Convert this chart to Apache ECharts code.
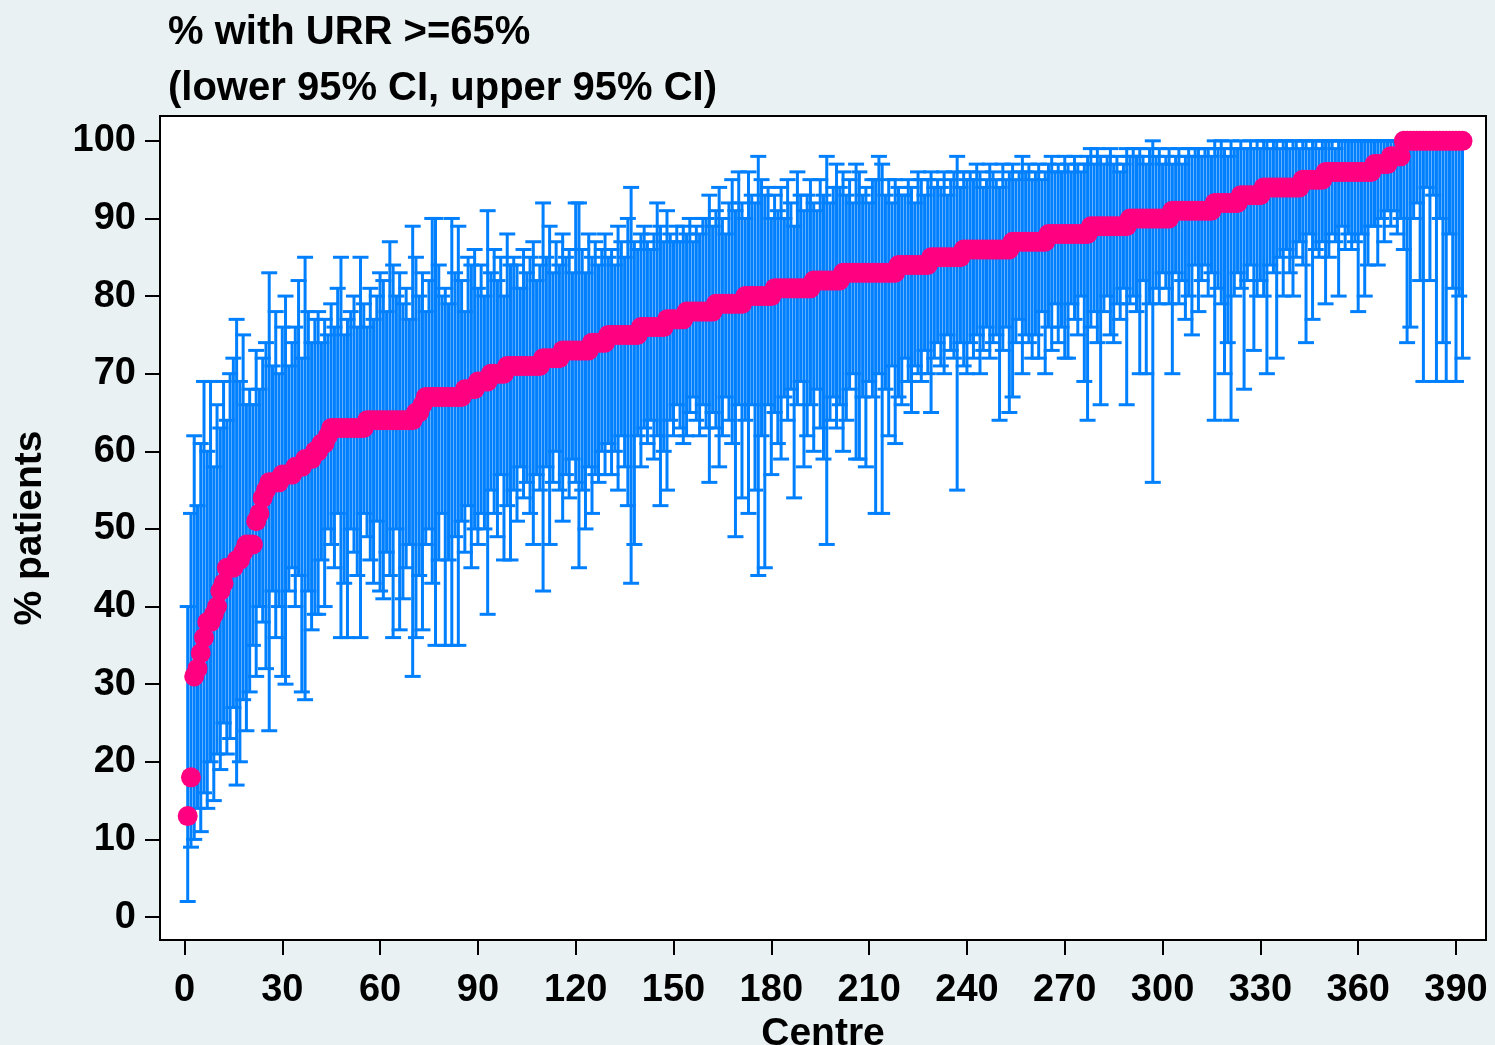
<!DOCTYPE html>
<html>
<head>
<meta charset="utf-8">
<script src="https://cdn.jsdelivr.net/npm/echarts@6/dist/echarts.min.js"></script>
<style>
html,body{margin:0;padding:0;background:#e9f1f3;}
#chart{width:1495px;height:1045px;}
</style>
</head>
<body>
<div id="chart"></div>
<script>
// Point estimate (% with URR >= 65%) per centre, sorted
var pct = [13,18,31,32,34,36,38,38,39,40,
42,43,45,45,45,46,46,47,48,48,
48,51,52,54,55,56,56,56,56,57,
57,57,57,58,58,58,59,59,59,60,
60,61,61,62,63,63,63,63,63,63,
63,63,63,63,63,64,64,64,64,64,
64,64,64,64,64,64,64,64,64,64,
65,65,66,67,67,67,67,67,67,67,
67,67,67,67,67,68,68,68,68,69,
69,69,69,70,70,70,70,70,71,71,
71,71,71,71,71,71,71,71,71,72,
72,72,72,72,72,73,73,73,73,73,
73,73,73,73,74,74,74,74,74,75,
75,75,75,75,75,75,75,75,75,76,
76,76,76,76,76,76,76,77,77,77,
77,77,77,78,78,78,78,78,78,78,
78,78,79,79,79,79,79,79,79,79,
79,80,80,80,80,80,80,80,80,80,
81,81,81,81,81,81,81,81,81,81,
81,81,82,82,82,82,82,82,82,82,
82,83,83,83,83,83,83,83,83,83,
83,83,83,83,83,83,83,83,84,84,
84,84,84,84,84,84,84,84,85,85,
85,85,85,85,85,85,85,85,86,86,
86,86,86,86,86,86,86,86,86,86,
86,86,86,87,87,87,87,87,87,87,
87,87,87,87,88,88,88,88,88,88,
88,88,88,88,88,88,88,89,89,89,
89,89,89,89,89,89,89,89,89,90,
90,90,90,90,90,90,90,90,90,90,
90,90,91,91,91,91,91,91,91,91,
91,91,91,91,91,92,92,92,92,92,
92,92,92,93,93,93,93,93,93,93,
94,94,94,94,94,94,94,94,94,94,
94,94,95,95,95,95,95,95,95,96,
96,96,96,96,96,96,96,96,96,96,
96,96,96,96,97,97,97,97,97,98,
98,98,98,100,100,100,100,100,100,100,
100,100,100,100,100,100,100,100,100,100,
100,100];

// Lower 95% CI
var lower = [2,9,10,14,11,16,14,20,15,21,
19,25,21,23,27,17,20,28,24,29,
35,31,40,38,32,24,42,36,40,31,
30,42,45,40,44,29,28,42,37,39,
39,46,40,50,48,45,52,36,43,36,
50,47,44,36,52,49,46,43,51,42,
41,47,44,36,50,37,41,45,48,31,
36,44,37,48,50,43,35,46,52,35,
46,35,49,35,51,47,53,45,50,48,
52,50,39,55,52,49,57,46,53,46,
55,51,58,54,56,52,48,57,55,42,
58,48,56,60,55,51,57,54,59,56,
45,55,50,58,52,57,56,60,57,61,
57,60,55,62,58,53,43,48,62,58,
63,61,64,59,62,53,60,55,64,62,
66,63,61,62,65,67,64,62,66,63,
56,65,63,58,62,67,64,61,49,66,
54,64,52,66,55,44,62,45,66,57,
65,61,59,67,64,68,54,66,69,58,
62,66,60,68,63,59,48,64,67,63,
66,60,64,68,70,59,59,67,58,69,
67,52,70,52,68,62,71,61,67,66,
72,69,65,71,70,69,73,70,65,72,
74,71,70,75,73,72,55,74,71,70,
74,72,75,70,73,76,72,74,75,64,
73,76,65,67,74,77,70,75,74,72,
75,72,78,70,76,73,79,74,76,72,
72,79,77,75,80,69,64,76,78,74,
66,78,80,75,74,79,77,81,66,79,
80,78,70,82,70,79,56,81,79,83,
81,79,70,83,79,82,77,80,75,84,
78,82,84,80,83,64,81,79,70,74,
64,80,83,81,68,82,84,73,80,82,
80,70,84,83,72,85,80,86,83,80,
85,87,84,74,88,77,86,85,87,79,
85,88,87,80,89,86,88,86,87,78,
88,80,84,89,89,84,90,87,91,89,
91,88,90,86,74,76,90,92,82,69,
94,82,93,69,90,74,69,88,81,69,
80,72];

// Upper 95% CI
var upper = [40,52,62,53,61,69,60,69,58,66,
63,69,64,70,72,77,69,75,66,68,
66,73,68,72,74,83,71,78,70,76,
80,71,74,76,82,72,85,78,74,77,
78,74,77,75,79,76,81,85,75,77,
78,80,76,85,79,76,81,77,80,83,
82,78,87,84,80,83,79,81,77,89,
85,80,83,78,82,90,90,84,80,81,
79,90,83,89,82,78,85,84,86,81,
84,80,91,83,86,82,85,80,88,84,
85,84,81,86,83,85,87,82,84,92,
85,89,83,87,84,88,85,86,83,92,
92,86,83,88,85,87,84,86,88,85,
86,84,89,87,85,90,94,87,86,88,
89,87,86,88,92,89,87,91,88,87,
89,87,89,88,90,87,89,88,90,90,
93,89,91,94,90,88,92,95,91,96,
92,90,96,93,92,98,95,93,94,90,
93,91,94,90,95,92,89,96,93,91,
93,95,92,91,95,93,98,92,94,97,
94,96,93,95,92,97,96,93,94,92,
95,95,98,97,93,95,92,95,94,93,
93,95,94,92,96,95,93,95,96,94,
95,94,96,93,95,96,98,94,96,95,
96,95,97,96,94,95,97,96,95,94,
97,95,96,97,95,96,98,96,97,95,
96,97,95,96,97,98,96,97,96,98,
97,96,98,97,96,97,98,99,97,99,
98,97,98,99,97,98,96,97,99,98,
99,98,99,98,97,99,100,98,99,97,
98,99,97,98,99,97,98,99,98,99,
99,98,99,99,98,100,99,100,99,98,
100,99,99,100,99,99,100,99,100,99,
100,100,99,100,100,99,100,100,99,100,
100,99,100,100,99,100,100,99,100,100,
100,100,99,100,100,100,100,100,100,100,
100,100,100,100,100,100,100,100,100,100,
100,100,100,100,100,100,100,100,100,100,
100,100,100,100,100,100,100,100,100,100,
100,100];

var xTicks = [0,30,60,90,120,150,180,210,240,270,300,330,360,390];
var yTicks = [0,10,20,30,40,50,60,70,80,90,100];

var BLUE = '#0080ff';
var PINK = '#ff0080';
var FONT = "'Liberation Sans', Arial, Helvetica, sans-serif";

var ciData = [], ptData = [];
for (var i = 0; i < pct.length; i++) {
  ciData.push([i + 1, lower[i], upper[i]]);
  ptData.push([i + 1, pct[i]]);
}

var chart = echarts.init(document.getElementById('chart'), null, {renderer: 'canvas'});
chart.setOption({
  animation: false,
  backgroundColor: '#e9f1f3',
  title: {
    text: '% with URR >=65%\n(lower 95% CI, upper 95% CI)',
    left: 163, top: 0,
    textStyle: {fontFamily: FONT, fontWeight: 'bold', fontSize: 40, color: '#000', lineHeight: 56}
  },
  grid: {
    left: 160, top: 116, right: 9, bottom: 105,
    outerBoundsMode: 'none', containLabel: false,
    show: true, backgroundColor: '#ffffff', borderColor: '#000', borderWidth: 2
  },
  xAxis: {
    type: 'value', min: -7.5, max: 399.2,
    name: 'Centre', nameLocation: 'middle', nameGap: 66,
    nameTextStyle: {fontFamily: FONT, fontWeight: 'bold', fontSize: 39, color: '#000'},
    splitLine: {show: false},
    axisLine: {show: false, onZero: false},
    axisTick: {show: true, inside: false, length: 15, lineStyle: {color: '#000', width: 2}, customValues: xTicks},
    axisLabel: {fontFamily: FONT, fontWeight: 'bold', fontSize: 38, color: '#000', margin: 32, customValues: xTicks}
  },
  yAxis: {
    type: 'value', min: -2.96, max: 103.2,
    name: '% patients', nameLocation: 'middle', nameGap: 110, nameRotate: 90,
    nameTextStyle: {fontFamily: FONT, fontWeight: 'bold', fontSize: 39, color: '#000'},
    splitLine: {show: false},
    axisLine: {show: false, onZero: false},
    axisTick: {show: true, inside: false, length: 15, lineStyle: {color: '#000', width: 2}, customValues: yTicks},
    axisLabel: {fontFamily: FONT, fontWeight: 'bold', fontSize: 38, color: '#000', margin: 24, customValues: yTicks}
  },
  series: [
    {
      type: 'custom',
      data: ciData,
      encode: {x: 0, y: [1, 2]},
      renderItem: function (params, api) {
        var x = api.value(0);
        var pLo = api.coord([x, api.value(1)]);
        var pHi = api.coord([x, api.value(2)]);
        var hw = 8;
        var st = {stroke: BLUE, lineWidth: 3};
        return {
          type: 'group',
          children: [
            {type: 'line', shape: {x1: pLo[0], y1: pLo[1], x2: pHi[0], y2: pHi[1]}, style: st},
            {type: 'line', shape: {x1: pLo[0] - hw, y1: pLo[1], x2: pLo[0] + hw, y2: pLo[1]}, style: st},
            {type: 'line', shape: {x1: pHi[0] - hw, y1: pHi[1], x2: pHi[0] + hw, y2: pHi[1]}, style: st}
          ]
        };
      },
      z: 2
    },
    {
      type: 'scatter',
      data: ptData,
      symbol: 'circle',
      symbolSize: 20,
      itemStyle: {color: PINK, borderWidth: 0, opacity: 1},
      z: 3
    }
  ]
});
</script>
</body>
</html>
